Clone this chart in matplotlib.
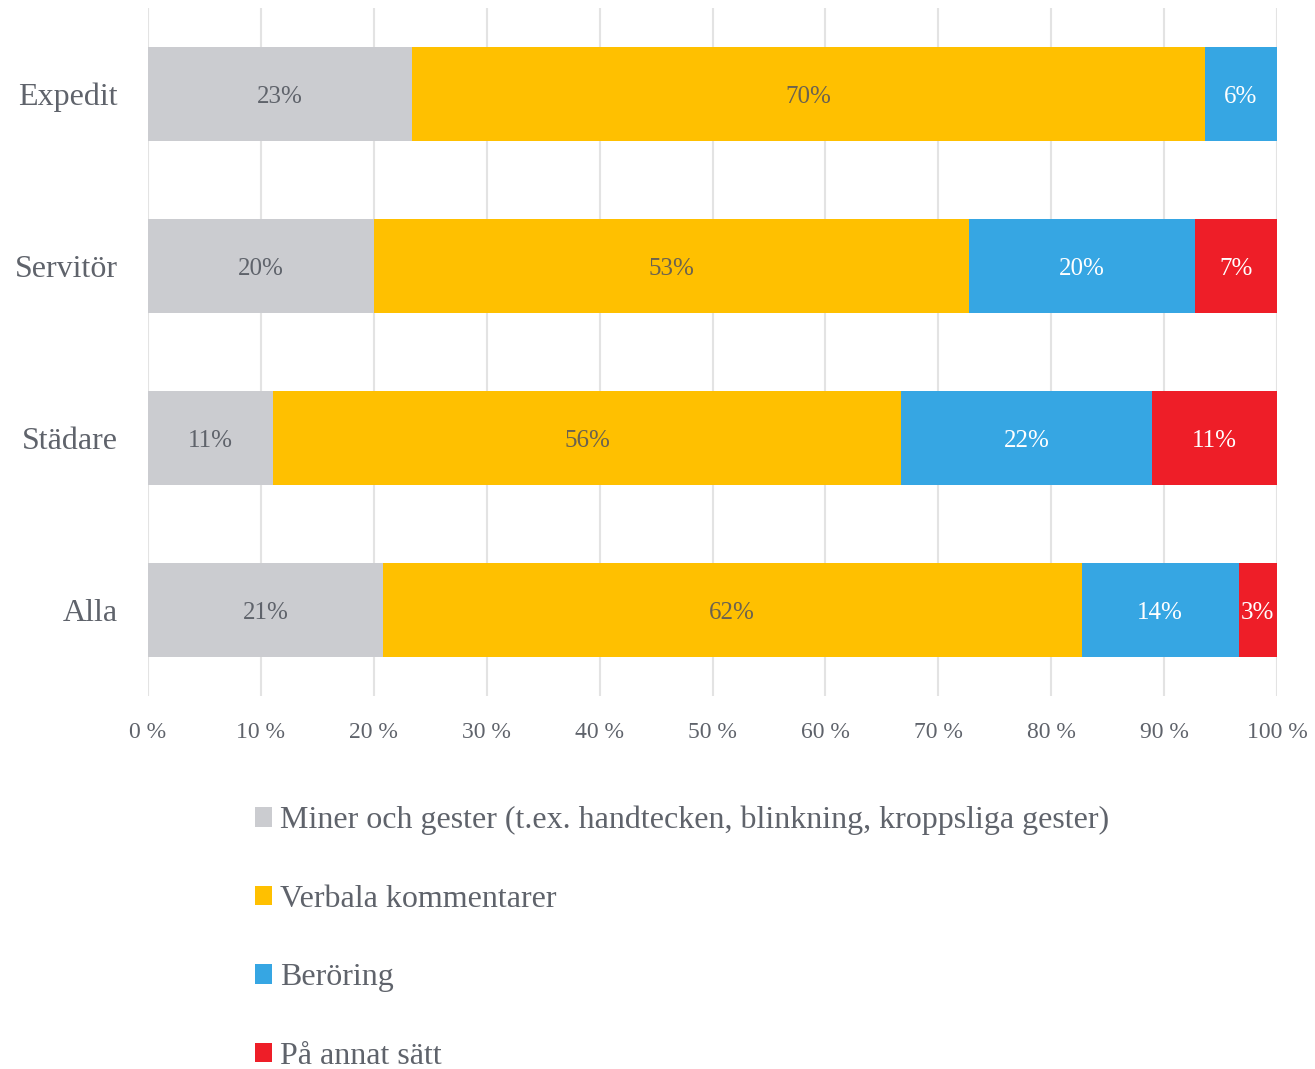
import numpy as np
import matplotlib
matplotlib.use('Agg')
import matplotlib.pyplot as plt
from matplotlib.patches import Patch

# Data (percent)
categories = ['Expedit', 'Servitör', 'Städare', 'Alla']
series_names = ['Miner och gester (t.ex. handtecken, blinkning, kroppsliga gester)',
                'Verbala kommentarer',
                'Beröring',
                'På annat sätt']
miner = [23.4, 20.0, 11.1, 20.8]
verbala = [70.2, 52.7, 55.6, 61.9]
beroring = [6.4, 20.0, 22.2, 13.9]
annat = [0.0, 7.3, 11.1, 3.4]
ticks = [0, 10, 20, 30, 40, 50, 60, 70, 80, 90, 100]

colors = ['#CBCCD0', '#FFC000', '#36A6E3', '#EE1E28']
label_colors = ['#5f636b', '#6b6250', 'white', 'white']
text_col = '#5f636b'

plt.rcParams['font.family'] = ['Liberation Serif', 'DejaVu Serif']

fig = plt.figure(figsize=(13.15, 10.69), dpi=100)
ax = fig.add_axes([148 / 1315, 1 - 696 / 1069, (1277 - 148) / 1315, 688 / 1069])

values = [miner, verbala, beroring, annat]
y = np.arange(len(categories))
left = np.zeros(len(categories))
for vals, col, lcol in zip(values, colors, label_colors):
    vals = np.array(vals)
    ax.barh(y, vals, left=left, height=0.55, color=col, zorder=3)
    for yi, l, v in zip(y, left, vals):
        if v > 0:
            ax.text(l + v / 2, yi + 0.02, '%d%%' % round(v), ha='center', va='center',
                    fontsize=18, color=lcol, zorder=4)
    left = left + vals

ax.set_xlim(0, 100)
ax.set_ylim(3.5, -0.5)
ax.set_yticks(y)
ax.set_yticklabels(categories, fontsize=23, color=text_col)
ax.set_xticks(ticks)
ax.set_xticklabels(['%d %%' % t for t in ticks], fontsize=17, color=text_col)
ax.tick_params(axis='both', length=0)
ax.tick_params(axis='y', pad=22)
ax.tick_params(axis='x', pad=19)
ax.grid(axis='x', color='#e3e3e3', linewidth=1.5, zorder=0)
for s in ax.spines.values():
    s.set_visible(False)

handles = [Patch(facecolor=c, edgecolor='none') for c in colors]
fig.legend(handles, series_names, loc='upper left', bbox_to_anchor=(242 / 1315, 1 - 793 / 1069),
           frameon=False, fontsize=23, labelcolor=text_col, handlelength=0.55, handleheight=0.55,
           handletextpad=0.25, labelspacing=1.55, borderaxespad=0)

fig.savefig('out.png', dpi=100)
